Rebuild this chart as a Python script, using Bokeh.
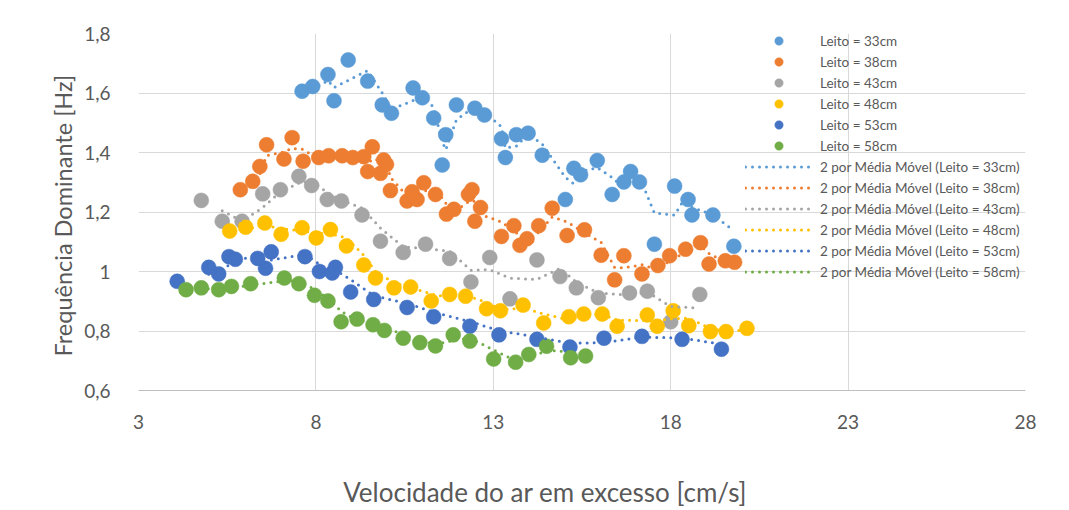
from bokeh.plotting import figure
from bokeh.models import FixedTicker, Legend, LegendItem, ColumnDataSource, Title
from bokeh.embed import file_html
from bokeh.resources import INLINE

# ---------------- data ----------------
x_ticks = [3, 8, 13, 18, 23, 28]
y_ticks = [0.6, 0.8, 1.0, 1.2, 1.4, 1.6, 1.8]
y_tick_labels = ["0,6", "0,8", "1", "1,2", "1,4", "1,6", "1,8"]
x_title = "Velocidade do ar em excesso [cm/s]"
y_title = "Frequência Dominante [Hz]"

series_names = ["Leito = 33cm", "Leito = 38cm", "Leito = 43cm",
                "Leito = 48cm", "Leito = 53cm", "Leito = 58cm"]
ma_names = ["2 por Média Móvel (Leito = 33cm)", "2 por Média Móvel (Leito = 38cm)",
            "2 por Média Móvel (Leito = 43cm)", "2 por Média Móvel (Leito = 48cm)",
            "2 por Média Móvel (Leito = 53cm)", "2 por Média Móvel (Leito = 58cm)"]
colors = ["#5B9BD5", "#ED7D31", "#A5A5A5", "#FFC000", "#4472C4", "#70AD47"]

x33 = [7.61, 7.91, 8.34, 8.51, 8.91, 9.46, 9.87, 10.13, 10.74, 11.00, 11.32, 11.56,
       11.66, 11.96, 12.48, 12.75, 13.23, 13.34, 13.65, 13.98, 14.38, 15.03, 15.27,
       15.46, 15.93, 16.35, 16.68, 16.87, 17.12, 17.54, 18.11, 18.49, 18.60, 19.19, 19.78]
y33 = [1.606, 1.622, 1.662, 1.574, 1.711, 1.640, 1.560, 1.532, 1.617, 1.584, 1.516, 1.358,
       1.460, 1.560, 1.549, 1.526, 1.446, 1.383, 1.460, 1.465, 1.391, 1.242, 1.347,
       1.325, 1.373, 1.259, 1.301, 1.336, 1.301, 1.092, 1.287, 1.242, 1.190, 1.190, 1.085]

x38 = [5.87, 6.22, 6.42, 6.61, 7.10, 7.33, 7.64, 8.08, 8.36, 8.74, 9.04, 9.35, 9.46,
       9.59, 9.82, 9.91, 9.99, 10.10, 10.57, 10.71, 10.85, 11.04, 11.37, 11.68, 11.89,
       12.30, 12.40, 12.48, 12.64, 13.23, 13.58, 13.75, 13.95, 14.28, 14.66, 15.08,
       15.57, 16.04, 16.42, 16.68, 17.19, 17.64, 17.97, 18.42, 18.84, 19.08, 19.54, 19.80]
y38 = [1.275, 1.303, 1.353, 1.426, 1.378, 1.450, 1.371, 1.383, 1.389, 1.389, 1.383, 1.386, 1.336,
       1.419, 1.330, 1.375, 1.360, 1.272, 1.237, 1.268, 1.242, 1.298, 1.259, 1.193, 1.209,
       1.259, 1.275, 1.169, 1.215, 1.118, 1.154, 1.088, 1.110, 1.154, 1.213, 1.121,
       1.140, 1.055, 0.972, 1.053, 0.992, 1.020, 1.053, 1.075, 1.097, 1.025, 1.036, 1.031]

x43 = [4.77, 5.36, 5.92, 6.50, 7.00, 7.52, 7.88, 8.32, 8.72, 9.30, 9.82, 10.46, 11.09,
       11.77, 12.37, 12.90, 13.47, 14.23, 14.88, 15.34, 15.96, 16.84, 17.34, 18.00, 18.82]
y43 = [1.239, 1.169, 1.169, 1.261, 1.275, 1.320, 1.289, 1.242, 1.237, 1.190, 1.102, 1.064, 1.092,
       1.044, 0.965, 1.047, 0.908, 1.039, 0.983, 0.945, 0.912, 0.928, 0.934, 0.831, 0.923]

x48 = [5.57, 6.02, 6.56, 7.02, 7.61, 8.01, 8.41, 8.86, 9.35, 9.68, 10.20, 10.67, 11.25,
       11.77, 12.22, 12.81, 13.20, 13.84, 14.42, 15.13, 15.55, 16.07, 16.49, 17.34,
       17.62, 18.07, 18.51, 19.12, 19.56, 20.15]
y48 = [1.136, 1.149, 1.163, 1.125, 1.147, 1.113, 1.141, 1.086, 1.022, 0.978, 0.945, 0.948, 0.901,
       0.923, 0.917, 0.875, 0.868, 0.887, 0.827, 0.848, 0.857, 0.857, 0.816, 0.854,
       0.816, 0.868, 0.818, 0.798, 0.798, 0.809]

x53 = [4.09, 4.98, 5.26, 5.55, 5.73, 6.36, 6.58, 6.74, 7.69, 8.10, 8.46, 8.55, 8.98,
       9.63, 10.57, 11.32, 12.34, 13.16, 14.23, 15.16, 16.12, 17.19, 18.32, 19.43]
y53 = [0.967, 1.014, 0.992, 1.050, 1.041, 1.044, 1.011, 1.066, 1.050, 1.000, 0.995, 1.014, 0.931,
       0.906, 0.879, 0.848, 0.816, 0.787, 0.772, 0.746, 0.776, 0.782, 0.772, 0.739]

x58 = [4.34, 4.77, 5.26, 5.62, 6.16, 7.11, 7.52, 7.96, 8.34, 8.71, 9.16, 9.61, 9.93,
       10.46, 10.93, 11.37, 11.87, 12.34, 13.01, 13.63, 14.00, 14.50, 15.18, 15.60]
y58 = [0.939, 0.945, 0.939, 0.950, 0.959, 0.978, 0.959, 0.920, 0.901, 0.831, 0.840, 0.821, 0.802,
       0.776, 0.761, 0.750, 0.787, 0.766, 0.706, 0.695, 0.721, 0.749, 0.710, 0.716]

xs = [x33, x38, x43, x48, x53, x58]
ys = [y33, y38, y43, y48, y53, y58]

# ---------------- figure ----------------
FONT = "Lato"
TEXT = "#595959"

p = figure(width=1069, height=510, output_backend="svg", toolbar_location=None,
           x_range=(3, 28), y_range=(0.6, 1.8),
           min_border_left=138, min_border_right=44, min_border_top=33, min_border_bottom=114)
p.outline_line_color = None
p.background_fill_color = "white"
p.border_fill_color = "white"

p.xaxis.ticker = FixedTicker(ticks=x_ticks)
p.yaxis.ticker = FixedTicker(ticks=y_ticks)
p.yaxis.major_label_overrides = {t: l for t, l in zip(y_ticks, y_tick_labels)}

for ax in (p.xaxis, p.yaxis):
    ax.major_tick_line_color = None
    ax.minor_tick_line_color = None
    ax.major_label_text_font = FONT
    ax.major_label_text_font_size = "19px"
    ax.major_label_text_color = TEXT

p.yaxis.axis_line_color = None
p.xaxis.axis_line_color = "#BFBFBF"
p.xaxis.major_label_standoff = 18
p.yaxis.major_label_standoff = 22

# x title: trailing wide spaces shift the centred title left, as in the reference
p.xaxis.axis_label = x_title + "\u2003\u2003\u2002\u2002\u2006\u2006"
p.xaxis.axis_label_text_font = FONT
p.xaxis.axis_label_text_font_size = "26px"
p.xaxis.axis_label_text_font_style = "normal"
p.xaxis.axis_label_text_color = TEXT
p.xaxis.axis_label_standoff = 44

p.xgrid.ticker = FixedTicker(ticks=x_ticks)
p.ygrid.ticker = FixedTicker(ticks=y_ticks)
p.grid.grid_line_color = "#D9D9D9"
p.grid.grid_line_width = 1

# y title as a side-panel title (offset like the reference)
p.add_layout(Title(text=y_title, align="left", offset=34, standoff=10,
                   text_font=FONT, text_font_size="23.5px", text_color=TEXT,
                   text_font_style="normal"), "left")

scatter_r = []
for x, y, c in zip(xs, ys, colors):
    src = ColumnDataSource(dict(x=x, y=y))
    r = p.scatter("x", "y", source=src, size=15, fill_color=c, line_color=c,
                  line_width=0.5)
    scatter_r.append(r)

ma_r = []
for x, y, c in zip(xs, ys, colors):
    mx = x[1:]
    my = [(a + b) / 2 for a, b in zip(y[:-1], y[1:])]
    r = p.line(mx, my, line_color=c, line_width=3, line_dash="0 7", line_cap="round")
    ma_r.append(r)

items = [LegendItem(label=n, renderers=[r]) for n, r in zip(series_names, scatter_r)]
items += [LegendItem(label=n, renderers=[r]) for n, r in zip(ma_names, ma_r)]

legend = Legend(items=items, location=(607, 108), padding=0, spacing=0, margin=0,
                glyph_width=67, glyph_height=21, label_height=21, label_standoff=8,
                label_text_font=FONT, label_text_font_size="13.5px",
                label_text_color=TEXT, background_fill_alpha=0,
                border_line_color=None)
p.add_layout(legend)

open("out.html", "w").write(file_html(p, INLINE))
